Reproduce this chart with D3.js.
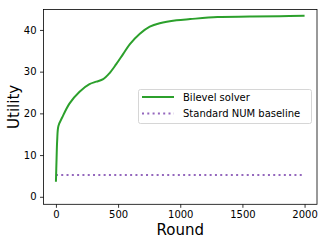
<!DOCTYPE html>
<html><head><meta charset="utf-8">
<script src="https://cdn.jsdelivr.net/npm/d3@7"></script>
<style>body{margin:0;background:#fff}svg{display:block;font-family:"DejaVu Sans",sans-serif}</style>
</head><body><svg id="c" width="327" height="245"></svg>
<script>
const rounds = [0, 5, 10, 20, 50, 110, 190, 270, 325, 380, 430, 485, 540, 595, 675, 755, 835, 970, 1080, 1300, 1560, 1800, 2000];
const bilevel = [3.6, 9, 13.5, 17, 19, 22.4, 25.2, 27.0, 27.6, 28.2, 29.6, 31.8, 34.2, 36.6, 39.1, 40.8, 41.6, 42.3, 42.6, 43.1, 43.2, 43.3, 43.4];
const baselineRounds = [0, 2000];
const baselineVals = [5.2, 5.2];
const xTicks = [0, 500, 1000, 1500, 2000];
const yTicks = [0, 10, 20, 30, 40];
const seriesNames = ["Bilevel solver", "Standard NUM baseline"];

const svg = d3.select("#c");
const L = 43.5, R = 317, T = 9.5, B = 204.3;
const x = d3.scaleLinear().domain([-100, 2100]).range([L, R]);
const y = d3.scaleLinear().domain([-1.8, 44.9]).range([B, T]);

const line = d3.line().x(d => x(d[0])).y(d => y(d[1])).curve(d3.curveCatmullRom.alpha(0.5));
const g = svg.append("g");
g.append("path").datum(baselineRounds.map((r, i) => [r, baselineVals[i]]))
  .attr("d", d3.line().x(d => x(d[0])).y(d => y(d[1])))
  .attr("fill", "none").attr("stroke", "#9467bd").attr("stroke-width", 2).attr("stroke-dasharray", "2,3.3");
g.append("path").datum(rounds.map((r, i) => [r, bilevel[i]]))
  .attr("d", line).attr("fill", "none").attr("stroke", "#2ca02c").attr("stroke-width", 2);

const xa = svg.append("g").attr("transform", `translate(0,${B})`)
  .call(d3.axisBottom(x).tickValues(xTicks).tickFormat(d3.format("d")).tickSize(3.5).tickPadding(3.5));
const ya = svg.append("g").attr("transform", `translate(${L},0)`)
  .call(d3.axisLeft(y).tickValues(yTicks).tickFormat(d3.format("d")).tickSize(3.5).tickPadding(3.5));
[xa, ya].forEach(a => { a.select(".domain").remove(); a.selectAll("text").attr("font-size", 10).attr("fill", "#000").attr("font-family", "DejaVu Sans"); a.selectAll("line").attr("stroke", "#000").attr("stroke-width", 0.8); });

svg.append("rect").attr("x", L).attr("y", T).attr("width", R - L).attr("height", B - T)
  .attr("fill", "none").attr("stroke", "#000").attr("stroke-width", 0.8);

svg.append("text").attr("x", (L + R) / 2).attr("y", 235).attr("text-anchor", "middle").attr("font-size", 15).text("Round");
svg.append("text").attr("transform", `translate(19,${(T + B) / 2}) rotate(-90)`).attr("text-anchor", "middle").attr("font-size", 15).text("Utility");

const lg = svg.append("g");
lg.append("rect").attr("x", 138.5).attr("y", 89.5).attr("width", 173).attr("height", 34).attr("rx", 2)
  .attr("fill", "#fff").attr("fill-opacity", 0.8).attr("stroke", "#ccc").attr("stroke-width", 0.8);
const colors = ["#2ca02c", "#9467bd"], dashes = [null, "2,3.3"];
seriesNames.forEach((n, i) => {
  const yy = 97 + i * 16.5;
  lg.append("line").attr("x1", 142).attr("x2", 174).attr("y1", yy).attr("y2", yy)
    .attr("stroke", colors[i]).attr("stroke-width", 2).attr("stroke-dasharray", dashes[i]);
  lg.append("text").attr("x", 183).attr("y", yy).attr("dy", "0.35em").attr("font-size", 10).text(n);
});
</script></body></html>
